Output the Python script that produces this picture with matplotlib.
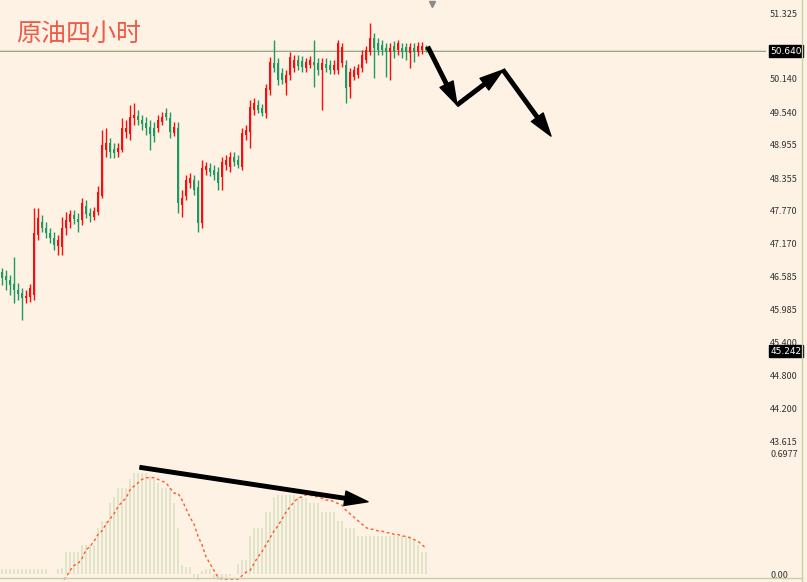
import matplotlib
matplotlib.use("Agg")
import matplotlib.pyplot as plt
import matplotlib.transforms as mtransforms

plt.rcParams['font.family'] = ['Noto Sans CJK SC', 'DejaVu Sans']

# 4-hour crude oil candles (prices)
opens = [46.66, 46.59, 46.52, 46.45, 46.34, 46.29, 46.20, 46.21, 46.25, 47.33,
         47.56, 47.46, 47.37, 47.28, 47.13, 47.11, 47.46, 47.56, 47.69, 47.62,
         47.60, 47.85, 47.73, 47.65, 47.74, 48.03, 48.86, 48.99, 48.88, 48.82,
         48.86, 49.18, 49.15, 49.44, 49.47, 49.40, 49.35, 49.27, 49.26, 49.26,
         49.36, 49.53, 49.44, 49.17, 49.26, 47.87, 48.03, 48.27, 48.32, 48.19,
         47.55, 48.50, 48.54, 48.50, 48.46, 48.37, 48.59, 48.55, 48.73, 48.68,
         48.55, 49.13, 49.18, 49.58, 49.67, 49.62, 49.53, 49.94, 50.43, 50.43,
         50.25, 50.07, 50.21, 50.34, 50.48, 50.46, 50.34, 50.39, 50.44, 50.43,
         50.30, 50.41, 50.39, 50.30, 50.30, 50.43, 50.39, 49.99, 50.17, 50.21,
         50.34, 50.48, 50.62, 50.88, 50.79, 50.75, 50.70, 50.62, 50.73, 50.66,
         50.70, 50.71, 50.61, 50.70, 50.62, 50.66, 50.71]
closes = [46.56, 46.52, 46.43, 46.34, 46.27, 46.20, 46.23, 46.38, 47.37, 47.64,
          47.46, 47.37, 47.28, 47.15, 47.24, 47.46, 47.60, 47.71, 47.62, 47.56,
          47.91, 47.71, 47.67, 47.76, 48.10, 48.95, 48.99, 48.82, 48.81, 48.90,
          49.26, 49.26, 49.45, 49.49, 49.40, 49.33, 49.26, 49.15, 49.11, 49.40,
          49.45, 49.45, 49.18, 49.27, 47.91, 48.00, 48.32, 48.36, 48.14, 47.55,
          48.54, 48.57, 48.46, 48.41, 48.27, 48.64, 48.68, 48.73, 48.64, 48.59,
          49.17, 49.22, 49.63, 49.71, 49.58, 49.53, 49.98, 50.44, 50.34, 50.12,
          50.12, 50.21, 50.53, 50.48, 50.37, 50.35, 50.44, 50.48, 50.39, 50.30,
          50.43, 50.34, 50.30, 50.39, 50.79, 50.71, 49.98, 50.26, 50.30, 50.34,
          50.57, 50.66, 50.88, 50.70, 50.66, 50.66, 50.62, 50.70, 50.62, 50.79,
          50.62, 50.62, 50.71, 50.62, 50.73, 50.73, 50.66]
highs = [46.74, 46.70, 46.61, 46.93, 46.47, 46.38, 46.34, 46.45, 47.82, 47.82,
         47.69, 47.56, 47.46, 47.38, 47.33, 47.65, 47.74, 47.78, 47.78, 47.73,
         48.00, 47.96, 47.82, 47.83, 48.21, 49.22, 49.26, 49.08, 48.99, 48.99,
         49.44, 49.40, 49.67, 49.71, 49.58, 49.49, 49.45, 49.40, 49.36, 49.49,
         49.54, 49.62, 49.54, 49.36, 49.36, 48.14, 48.41, 48.45, 48.41, 48.32,
         48.68, 48.64, 48.63, 48.59, 48.55, 48.73, 48.77, 48.82, 48.82, 48.77,
         49.26, 49.31, 49.76, 49.80, 49.76, 49.69, 50.05, 50.53, 50.84, 50.52,
         50.34, 50.30, 50.62, 50.57, 50.57, 50.55, 50.52, 50.55, 50.84, 50.52,
         50.52, 50.52, 50.48, 50.48, 50.84, 50.79, 50.48, 50.34, 50.37, 50.41,
         50.66, 50.73, 51.15, 50.97, 50.88, 50.84, 50.79, 50.79, 50.82, 50.84,
         50.79, 50.79, 50.79, 50.79, 50.80, 50.80, 50.75]
lows = [46.43, 46.34, 46.25, 46.11, 46.16, 45.80, 46.11, 46.12, 46.16, 47.24,
        47.38, 47.28, 47.19, 47.06, 46.97, 46.97, 47.33, 47.46, 47.53, 47.38,
        47.51, 47.64, 47.56, 47.60, 47.69, 48.00, 48.73, 48.72, 48.72, 48.73,
        48.82, 49.08, 49.04, 49.31, 49.31, 49.22, 49.13, 48.86, 49.00, 49.18,
        49.31, 49.40, 49.08, 49.11, 47.73, 47.65, 47.96, 48.18, 48.05, 47.38,
        47.46, 48.41, 48.39, 48.32, 48.14, 48.14, 48.50, 48.46, 48.57, 48.54,
        48.50, 49.04, 48.90, 49.49, 49.53, 49.47, 49.44, 49.85, 50.26, 50.03,
        50.05, 49.85, 50.12, 50.26, 50.30, 50.26, 50.26, 50.34, 49.99, 50.21,
        49.58, 50.26, 50.23, 50.23, 50.23, 50.35, 49.71, 49.80, 50.12, 50.16,
        50.26, 50.43, 50.57, 50.16, 50.57, 50.57, 50.17, 50.12, 50.52, 50.57,
        50.52, 50.48, 50.34, 50.44, 50.55, 50.59, 50.62]

# MACD histogram and signal line
macd_hist = [0.03, 0.03, 0.03, 0.03, 0.03, 0.03, 0.03, 0.03, 0.03, 0.03,
             0.03, 0.03, 0.0, 0.0, 0.03, 0.035, 0.13, 0.13, 0.13, 0.13,
             0.17, 0.17, 0.17, 0.17, 0.27, 0.31, 0.31, 0.41, 0.45, 0.50,
             0.50, 0.50, 0.55, 0.59, 0.59, 0.59, 0.59, 0.57, 0.55, 0.53,
             0.50, 0.50, 0.50, 0.41, 0.27, 0.05, 0.04, 0.04, -0.02, -0.08,
             0.02, 0.03, 0.03, -0.03, -0.05, -0.03, -0.02, -0.01, 0.0, 0.06,
             0.08, 0.08, 0.22, 0.27, 0.27, 0.27, 0.36, 0.36, 0.45, 0.46,
             0.46, 0.46, 0.46, 0.46, 0.45, 0.45, 0.44, 0.41, 0.41, 0.41,
             0.36, 0.36, 0.36, 0.36, 0.31, 0.31, 0.27, 0.27, 0.27, 0.22,
             0.22, 0.22, 0.22, 0.22, 0.22, 0.22, 0.22, 0.22, 0.22, 0.22,
             0.22, 0.22, 0.22, 0.19, 0.17, 0.13, 0.13]
macd_signal = [-0.1, -0.1, -0.1, -0.1, -0.1, -0.1, -0.1, -0.1, -0.1, -0.1,
               -0.1, -0.1, -0.1, -0.08, -0.06, -0.04, -0.02, 0.02, 0.05, 0.06,
               0.09, 0.14, 0.16, 0.19, 0.23, 0.25, 0.29, 0.32, 0.35, 0.39,
               0.42, 0.44, 0.49, 0.51, 0.53, 0.55, 0.56, 0.56, 0.56, 0.55,
               0.54, 0.53, 0.50, 0.47, 0.47, 0.43, 0.38, 0.33, 0.29, 0.22,
               0.17, 0.10, 0.06, 0.02, -0.02, -0.03, -0.03, -0.03, -0.03, -0.03,
               -0.01, 0.01, 0.02, 0.06, 0.10, 0.13, 0.17, 0.21, 0.25, 0.28,
               0.32, 0.36, 0.39, 0.42, 0.44, 0.45, 0.46, 0.46, 0.45, 0.45,
               0.44, 0.43, 0.43, 0.42, 0.41, 0.40, 0.37, 0.35, 0.33, 0.31,
               0.29, 0.27, 0.26, 0.26, 0.25, 0.25, 0.24, 0.24, 0.23, 0.23,
               0.22, 0.22, 0.21, 0.20, 0.19, 0.17, 0.15]

price_ticks = [51.325, 50.140, 49.540, 48.955, 48.355, 47.770, 47.170,
               46.585, 45.985, 45.400, 44.800, 44.200, 43.615]
last_price = 50.640
marker_price = 45.242
macd_ticks = [0.6977, 0.0]

# hand-drawn forecast arrows
forecast_x = [106.5, 113.75, 125.25, 137.25]
forecast_y = [50.71, 49.67, 50.30, 49.11]
divergence_x = [34.5, 91.5]
divergence_y = [0.62, 0.42]

bg = '#fdf2e3'
up_color = '#ff0a0a'
down_color = '#1e9a5e'
arrow_style = 'simple,head_width=0.75,head_length=1.2,tail_width=0.18'

fig = plt.figure(figsize=(8.07, 5.82), dpi=100, facecolor=bg)
W, H = 807, 582
ax = fig.add_axes([0, (H - 447) / H, 766 / W, 447 / H], facecolor=bg)
ax2 = fig.add_axes([0, (H - 580) / H, 766 / W, 130 / H], facecolor=bg)

# candles
n = len(opens)
for i in range(n):
    o, c, hi, lo = opens[i], closes[i], highs[i], lows[i]
    col = up_color if c >= o else down_color
    ax.vlines(i, lo, hi, color=col, lw=1.0)
    body = max(abs(c - o), 0.02)
    ax.bar(i, body, bottom=min(o, c), width=0.62, color=col, lw=0)

ax.axhline(last_price, color='#8c9a78', lw=1.3, zorder=0)
ax.axhline(last_price + 0.02, color='#d8dfc4', lw=0.8, zorder=0)

ax.set_xlim(-0.5, 191)
ax.set_ylim(51.56 - 0.018 * 447, 51.56)
ax.set_xticks([])
ax.yaxis.tick_right()
ax.set_yticks(price_ticks)
ax.set_yticklabels(['%.3f' % v for v in price_ticks])
ax.tick_params(axis='y', length=0, pad=3, labelsize=6.5, labelcolor='#333333')
for s in ax.spines.values():
    s.set_visible(False)

for val in [last_price, marker_price]:
    ax.annotate('%.3f' % val, xy=(1, val), xycoords=('axes fraction', 'data'),
                xytext=(3, 0), textcoords='offset points', ha='left', va='center',
                fontsize=6.5, color='white', family='DejaVu Sans',
                bbox=dict(boxstyle='square,pad=0.15', fc='black', ec='black'),
                annotation_clip=False)

# small marker at top
trans = mtransforms.blended_transform_factory(ax.transData, ax.transAxes)
ax.plot([107.5], [0.99], marker='v', color='#8a8a8a', markersize=5,
        transform=trans, clip_on=False)

for k in range(len(forecast_x) - 1):
    ax.annotate('', xy=(forecast_x[k + 1], forecast_y[k + 1]),
                xytext=(forecast_x[k], forecast_y[k]),
                arrowprops=dict(arrowstyle=arrow_style, color='black',
                                mutation_scale=14, shrinkA=0, shrinkB=0))

# MACD panel
xs = list(range(n))
ax2.bar(xs, macd_hist, width=0.5, color='#e0e5c9', lw=0)
ax2.plot(xs, macd_signal, color='#ff5a2a', lw=1.0, linestyle=(0, (2, 2)))
ax2.annotate('', xy=(divergence_x[1], divergence_y[1]),
             xytext=(divergence_x[0], divergence_y[0]),
             arrowprops=dict(arrowstyle=arrow_style, color='black',
                             mutation_scale=14, shrinkA=0, shrinkB=0))
ax2.set_xlim(-0.5, 191)
ax2.set_ylim(-6 * 0.005814, 124 * 0.005814)
ax2.set_xticks([])
ax2.yaxis.tick_right()
ax2.set_yticks(macd_ticks)
ax2.set_yticklabels(['0.6977', '0.00'])
ax2.tick_params(axis='y', length=0, pad=3, labelsize=6.5, labelcolor='#333333')
for s in ax2.spines.values():
    s.set_visible(False)

# frame lines
fig.add_artist(plt.Line2D([802 / W, 802 / W], [0, 1], color='#c8cfa8', lw=1))
fig.add_artist(plt.Line2D([0, 802 / W], [(H - 578) / H, (H - 578) / H], color='#c8cfa8', lw=1))

fig.text(16 / W, 1 - 35 / H, '原油四小时', fontsize=18, color='#f05a46', va='center', ha='left')

fig.savefig('out.png', dpi=100, facecolor=bg)
